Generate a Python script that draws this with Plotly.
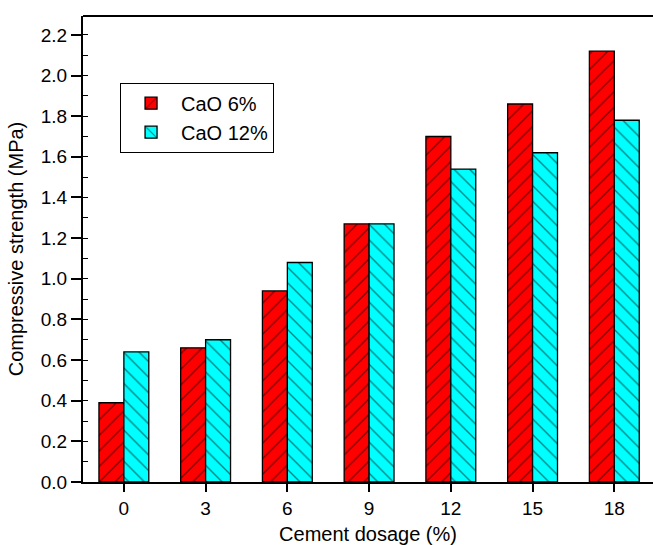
import plotly.graph_objects as go

# Cement dosage (%) and compressive strength (MPa) for two CaO contents
dosage = [0, 3, 6, 9, 12, 15, 18]
cao_6 = [0.39, 0.66, 0.94, 1.27, 1.70, 1.86, 2.12]
cao_12 = [0.64, 0.70, 1.08, 1.27, 1.54, 1.62, 1.78]
y_ticks = [0.0, 0.2, 0.4, 0.6, 0.8, 1.0, 1.2, 1.4, 1.6, 1.8, 2.0, 2.2]

FONT = "Liberation Sans, Arial, Helvetica, sans-serif"

fig = go.Figure()
fig.add_trace(go.Bar(
    x=dosage, y=cao_6, name="CaO 6%",
    marker=dict(
        color="#ff0000",
        line=dict(color="#000000", width=1.3),
        pattern=dict(shape="/", fgcolor="#000000", bgcolor="#ff0000",
                     size=11, solidity=0.12),
    ),
))
fig.add_trace(go.Bar(
    x=dosage, y=cao_12, name="CaO 12%",
    marker=dict(
        color="#00ffff",
        line=dict(color="#000000", width=1.3),
        pattern=dict(shape="\\", fgcolor="#000000", bgcolor="#00ffff",
                     size=11, solidity=0.12),
    ),
))

fig.update_layout(
    width=653, height=545,
    margin=dict(l=83, r=0, t=16, b=61),
    paper_bgcolor="white", plot_bgcolor="white",
    barmode="group", bargap=0.39, bargroupgap=0,
    font=dict(family=FONT, size=19, color="#000000"),
    legend=dict(
        x=0.065, y=0.857, xanchor="left", yanchor="top",
        bordercolor="#000000", borderwidth=1, bgcolor="white",
        font=dict(size=20), tracegroupgap=0, itemwidth=50,
    ),
    showlegend=True,
)

fig.update_xaxes(
    range=[-1.5, 19.42],
    tickmode="array", tickvals=dosage, ticktext=[str(d) for d in dosage],
    ticks="outside", ticklen=8, tickwidth=1.5, tickcolor="#000000",
    showline=True, linecolor="#000000", linewidth=2,
    showgrid=False, zeroline=False,
    title=dict(text="Cement dosage (%)", font=dict(size=20), standoff=12),
)
fig.update_yaxes(
    range=[0, 2.293],
    tickmode="array", tickvals=y_ticks,
    ticktext=[f"{v:.1f}" for v in y_ticks],
    ticks="outside", ticklen=10, tickwidth=1.5, tickcolor="#000000",
    minor=dict(ticks="inside", ticklen=5, tickwidth=1, tickcolor="#000000",
               dtick=0.1, tick0=0, showgrid=False),
    showline=True, linecolor="#000000", linewidth=2,
    showgrid=False, zeroline=False,
    title=dict(text="Compressive strength (MPa)", font=dict(size=20), standoff=12),
)

# Top frame border of the plot area
fig.add_shape(type="line", xref="paper", yref="paper",
              x0=0, x1=1, y0=1, y1=1,
              line=dict(color="#000000", width=2))

fig.write_html("out.html")
